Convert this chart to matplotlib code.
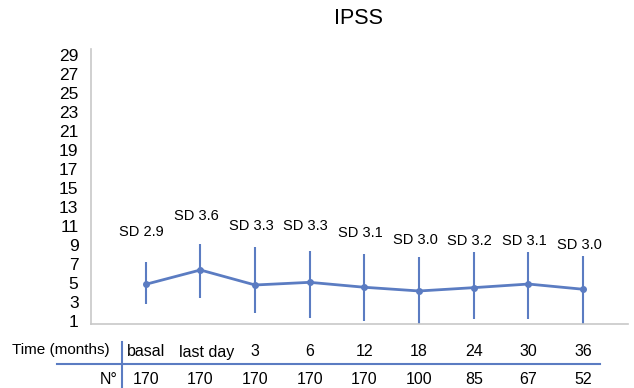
import matplotlib
matplotlib.use("Agg")
import matplotlib.pyplot as plt
from matplotlib.lines import Line2D
from matplotlib.transforms import blended_transform_factory

plt.rcParams['font.family'] = ['Liberation Sans', 'DejaVu Sans']

# ---- data ----
time_labels = ["basal", "last day", "3", "6", "12", "18", "24", "30", "36"]
n_patients = ["170", "170", "170", "170", "170", "100", "85", "67", "52"]
sd_labels = ["SD 2.9", "SD 3.6", "SD 3.3", "SD 3.3", "SD 3.1", "SD 3.0", "SD 3.2", "SD 3.1", "SD 3.0"]
ipss_mean = [4.86, 6.37, 4.79, 5.07, 4.55, 4.16, 4.51, 4.89, 4.34]
bar_high = [7.18, 9.10, 8.82, 8.37, 8.02, 7.77, 8.23, 8.23, 7.84]
bar_low = [2.76, 3.45, 1.81, 1.28, 1.03, 0.60, 1.21, 1.21, 0.60]
y_ticks = list(range(1, 30, 2))

# ---- layout (label heights for the SD annotations) ----
sd_label_y = [10.4, 12.05, 11.03, 11.03, 10.23, 9.53, 9.45, 9.45, 9.0]

W, H = 634, 388
fig = plt.figure(figsize=(W / 100, H / 100), dpi=100)
ax = fig.add_axes([91 / W, 1 - 324 / H, (628 - 91) / W, (324 - 49) / H])

color = "#5b7cc2"
x = list(range(len(time_labels)))
err_lo = [m - l for m, l in zip(ipss_mean, bar_low)]
err_hi = [h - m for m, h in zip(ipss_mean, bar_high)]

ax.errorbar(x, ipss_mean, yerr=[err_lo, err_hi], color=color, lw=2.0,
            elinewidth=1.5, capsize=0, marker="o", markersize=4,
            markerfacecolor=color, markeredgecolor=color)

ax.set_xlim(-1.0, 8.82)
ax.set_ylim(0.684, 29.63)
ax.set_yticks(y_ticks)
ax.set_yticklabels([str(t) for t in y_ticks], fontsize=12.5)
ax.tick_params(axis="y", length=0, pad=9)
ax.set_xticks([])
for s in ["top", "right"]:
    ax.spines[s].set_visible(False)
for s in ["left", "bottom"]:
    ax.spines[s].set_color("#c8c8c8")
    ax.spines[s].set_linewidth(1.2)

for xi, lab, ly in zip(x, sd_labels, sd_label_y):
    ax.annotate(lab, (xi, ly), xytext=(-3, 0), textcoords="offset points",
                ha="center", va="center", fontsize=10.5)

fig.text(359 / W, 1 - 18 / H, "IPSS", ha="center", va="center", fontsize=15.5)

# ---- table under the axis ----
trans = blended_transform_factory(ax.transData, fig.transFigure)
for xi, tl, n in zip(x, time_labels, n_patients):
    ax.text(xi + (0.12 if tl == "last day" else 0.0), 1 - 352 / H, tl,
            transform=trans, ha="center", va="center",
            fontsize=11.5, clip_on=False)
    ax.text(xi, 1 - 380 / H, n, transform=trans, ha="center", va="center",
            fontsize=11.5, clip_on=False)

fig.text(110 / W, 1 - 350 / H, "Time (months)", ha="right", va="center", fontsize=11)
fig.text(118 / W, 1 - 380 / H, "N°", ha="right", va="center", fontsize=11.5)

fig.add_artist(Line2D([57 / W, 600 / W], [1 - 364 / H, 1 - 364 / H],
                      transform=fig.transFigure, color=color, lw=1.5))
fig.add_artist(Line2D([122 / W, 122 / W], [1 - 342 / H, 0.0],
                      transform=fig.transFigure, color=color, lw=1.5))

fig.savefig("out.png", dpi=100)
